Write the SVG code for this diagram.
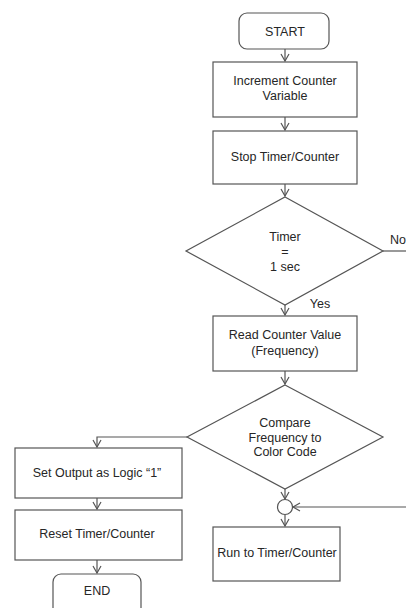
<svg xmlns="http://www.w3.org/2000/svg" width="406" height="608" viewBox="0 0 406 608">
<defs>
<style>
.n{fill:#fff;stroke:#555;stroke-width:1.2}
.t{font-family:"Liberation Sans",Arial,sans-serif;font-size:12.5px;fill:#262626;text-anchor:middle}
.c{fill:none;stroke:#555;stroke-width:1.2}
</style>
<marker id="a" markerWidth="10" markerHeight="10" refX="8" refY="5" orient="auto" markerUnits="userSpaceOnUse">
<path d="M1,1 L8,5 L1,9" fill="none" stroke="#555" stroke-width="1.2"/>
</marker>
</defs>
<rect width="406" height="608" fill="#fff"/>
<g id="connectors">
<line class="c" x1="285" y1="49" x2="285" y2="61" marker-end="url(#a)"/>
<line class="c" x1="285" y1="117" x2="285" y2="130" marker-end="url(#a)"/>
<line class="c" x1="285" y1="184" x2="285" y2="196" marker-end="url(#a)"/>
<line class="c" x1="383" y1="251" x2="406" y2="251"/>
<line class="c" x1="285" y1="305" x2="285" y2="315" marker-end="url(#a)"/>
<line class="c" x1="285" y1="371" x2="285" y2="384" marker-end="url(#a)"/>
<polyline class="c" points="187,437 97,437 97,447" marker-end="url(#a)"/>
<line class="c" x1="97" y1="498" x2="97" y2="509" marker-end="url(#a)"/>
<line class="c" x1="97" y1="560" x2="97" y2="573" marker-end="url(#a)"/>
<line class="c" x1="285" y1="489" x2="285" y2="499" marker-end="url(#a)"/>
<line class="c" x1="406" y1="507" x2="293" y2="507" marker-end="url(#a)"/>
<line class="c" x1="285" y1="515" x2="285" y2="526" marker-end="url(#a)"/>
<text class="t" x="398" y="244">No</text>
<text class="t" x="320" y="308">Yes</text>
</g>
<g id="start"><rect class="n" x="239" y="13" width="90" height="36" rx="8"/><text class="t" x="285" y="36">START</text></g>
<g id="increment"><rect class="n" x="213" y="62" width="144" height="55"/><text class="t" x="285" y="85">Increment Counter</text><text class="t" x="285" y="100">Variable</text></g>
<g id="stop"><rect class="n" x="213" y="131" width="144" height="53"/><text class="t" x="285" y="161">Stop Timer/Counter</text></g>
<g id="timer"><polygon class="n" points="285,197 383,251 285,305 186,251"/><text class="t" x="285" y="241">Timer</text><text class="t" x="285" y="256">=</text><text class="t" x="285" y="271">1 sec</text></g>
<g id="read"><rect class="n" x="213" y="316" width="144" height="55"/><text class="t" x="285" y="339">Read Counter Value</text><text class="t" x="285" y="355">(Frequency)</text></g>
<g id="compare"><polygon class="n" points="285,385 383,437 285,489 187,437"/><text class="t" x="285" y="427">Compare</text><text class="t" x="285" y="442">Frequency to</text><text class="t" x="285" y="456">Color Code</text></g>
<g id="setoutput"><rect class="n" x="15" y="448" width="167" height="50"/><text class="t" x="97" y="477">Set Output as Logic “1”</text></g>
<g id="reset"><rect class="n" x="15" y="510" width="167" height="50"/><text class="t" x="97" y="538">Reset Timer/Counter</text></g>
<g id="end"><rect class="n" x="53" y="574" width="88" height="44" rx="8"/><text class="t" x="97" y="595">END</text></g>
<g id="junction"><circle class="n" cx="285" cy="507" r="7.5"/></g>
<g id="run"><rect class="n" x="213" y="527" width="127" height="54"/><text class="t" x="277" y="557">Run to Timer/Counter</text></g>
</svg>
